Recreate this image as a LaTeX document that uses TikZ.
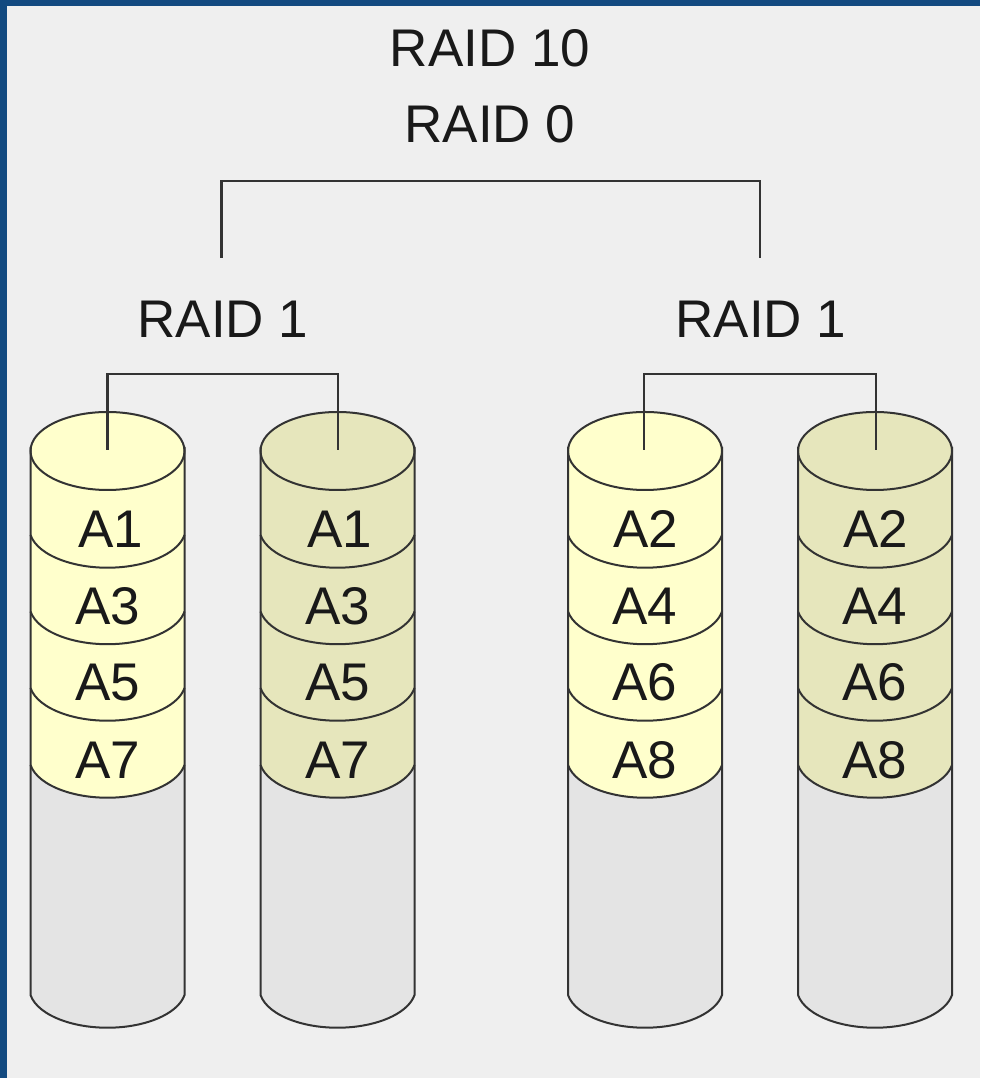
\documentclass[tikz,border=0pt]{standalone}
\usepackage{fontspec}
\setmainfont{Liberation Sans}
\definecolor{framecol}{HTML}{134A80}
\definecolor{bgcol}{HTML}{EFEFEF}
\definecolor{yellowcol}{HTML}{FFFFCC}
\definecolor{olivecol}{HTML}{E6E6BC}
\definecolor{graycol}{HTML}{E4E4E4}
\definecolor{linecol}{HTML}{333333}
\tikzset{
  x=1pt,y=1pt,
  lbl/.style={anchor=base,inner sep=0pt,font=\fontsize{53}{60}\selectfont,text=black!90},
  outline/.style={draw=linecol,line width=2pt},
  wire/.style={draw=linecol,line width=2.2pt,line join=miter},
}
% #1 centre x, #2 fill, #3-#6 labels, #7 name, #8 first-label shift, #9 stem shift
\newcommand{\diskstack}[9]{
  \begin{scope}[shift={(#1,627)}]
    \fill[graycol] (-77,-544) -- (-77,-307) -- (77,-307) -- (77,-544) arc[start angle=350,end angle=190,x radius=78.2,y radius=39.6] -- cycle;
    \fill[#2] (-77,0) -- (-77,-314) arc[start angle=190,end angle=350,x radius=78.2,y radius=39.6] -- (77,0) arc[start angle=0,end angle=180,x radius=77,y radius=39] -- cycle;
    \draw[outline] (-77,4) -- (-77,-544) arc[start angle=190,end angle=350,x radius=78.2,y radius=39.6] -- (77,4);
    \draw[outline] (0,0) ellipse[x radius=77,y radius=39];
    \foreach \c in {-77,-153.5,-230,-307}
      \draw[outline] (-77,\c-7) arc[start angle=190,end angle=350,x radius=78.2,y radius=39.6];
    \coordinate (#7) at (#9,1);
    \node[lbl] (#7a) at (#8,-97) {#3};
    \node[lbl] (#7b) at (0,-174) {#4};
    \node[lbl] (#7c) at (0,-250) {#5};
    \node[lbl] (#7d) at (0,-328) {#6};
  \end{scope}
}
\begin{document}
\begin{tikzpicture}
\useasboundingbox (0,0) rectangle (980,1078);
\fill[framecol] (0,0) rectangle (980,1078);
\fill[bgcol] (7,0) rectangle (980,1072);
\diskstack{107.5}{yellowcol}{A1}{A3}{A5}{A7}{da}{3}{0}
\diskstack{337.5}{olivecol}{A1}{A3}{A5}{A7}{db}{2.5}{0.5}
\diskstack{645}{yellowcol}{A2}{A4}{A6}{A8}{dc}{0.5}{-1}
\diskstack{875}{olivecol}{A2}{A4}{A6}{A8}{dd}{0.5}{1}
\node[lbl] (r10) at (490,1011) {RAID 10};
\node[lbl] (r0) at (490,935) {RAID 0};
\node[lbl] (r1l) at (223,740) {RAID 1};
\node[lbl] (r1r) at (761,740) {RAID 1};
\coordinate (ml) at (221.5,820);
\coordinate (mr) at (760,820);
\coordinate (mt) at (0,897);
\coordinate (lt) at (0,704);
\draw[wire] (ml) -- (ml|-mt) -- (mr|-mt) -- (mr);
\draw[wire] (da) -- (da|-lt) -- (db|-lt) -- (db);
\draw[wire] (dc) -- (dc|-lt) -- (dd|-lt) -- (dd);
\end{tikzpicture}
\end{document}
